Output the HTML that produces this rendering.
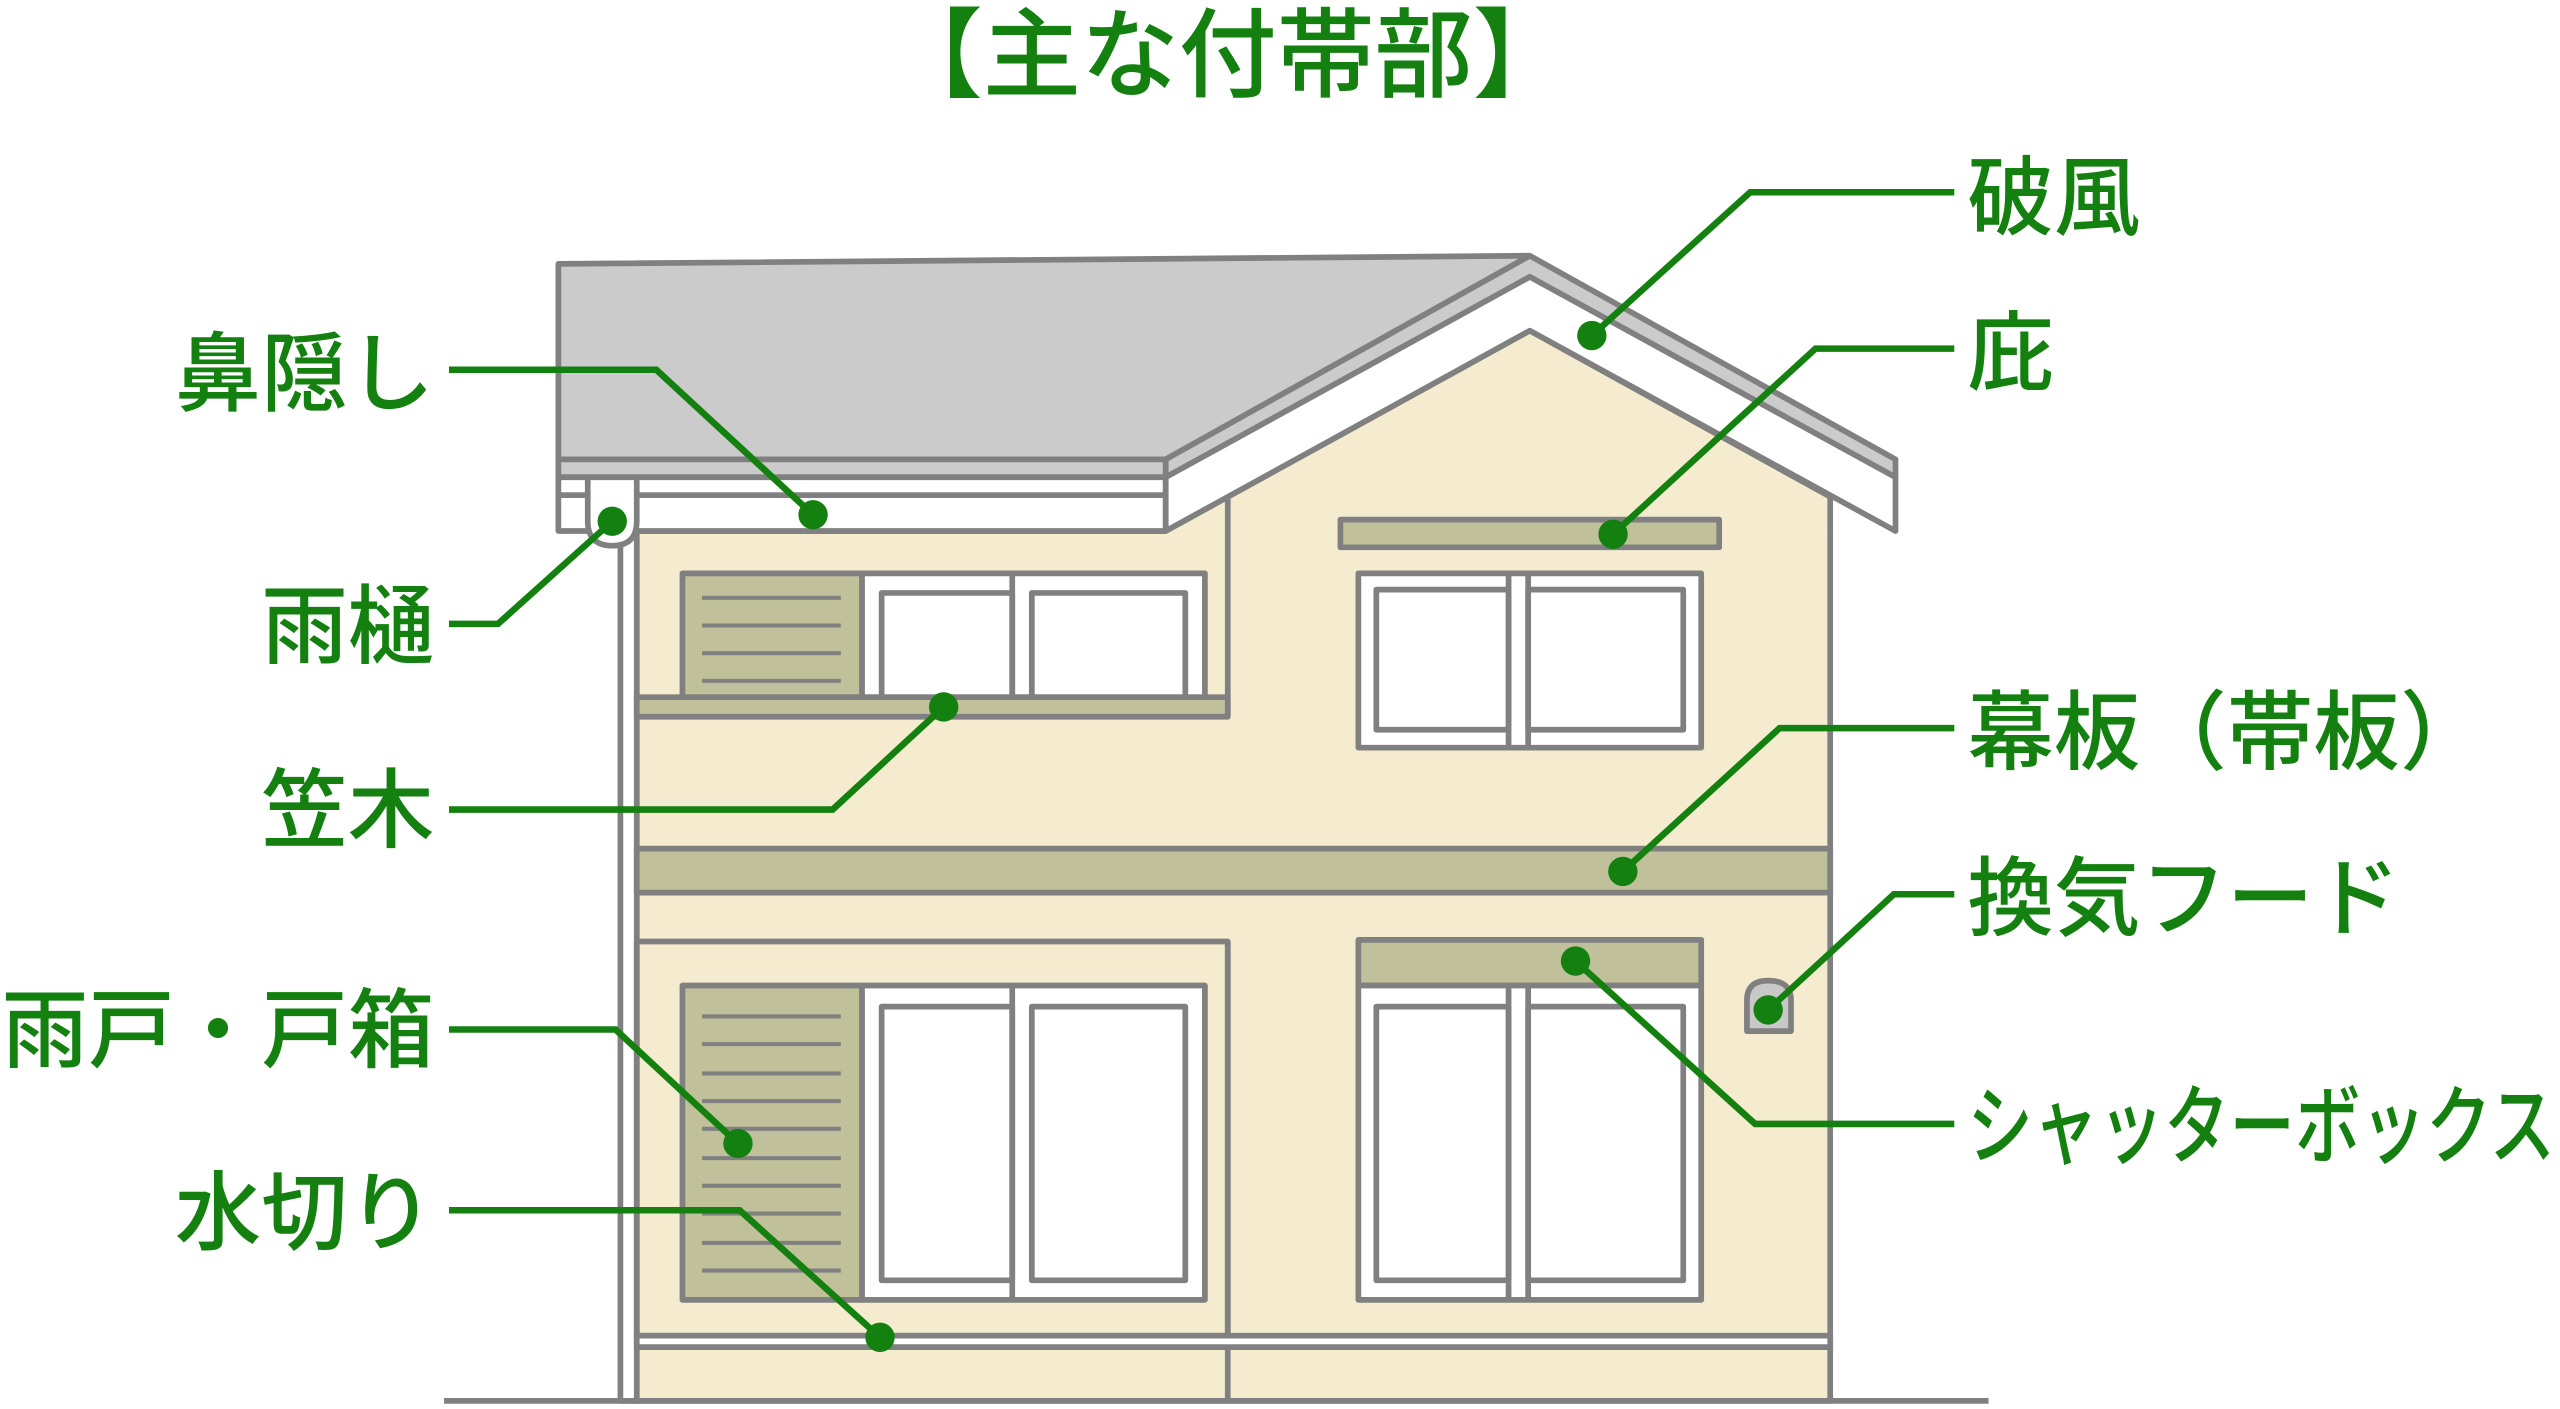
<!DOCTYPE html>
<html><head><meta charset="utf-8"><style>
html,body{margin:0;padding:0;background:#fff;}
svg{display:block;}
text{font-family:"Liberation Sans","Noto Sans CJK JP",sans-serif;fill:#13800f;font-size:53px;font-weight:500;}
</style></head><body>
<svg width="2560" height="1409" viewBox="0 0 1568 865" preserveAspectRatio="none">
<g stroke="#808080" stroke-width="3.5" stroke-linejoin="round">
<polygon points="390,326 714,326 937,203 1121,305 1121,860 390,860" fill="#f5ecd0"/>
<line x1="752" y1="305" x2="752" y2="440"/>
<line x1="752" y1="578" x2="752" y2="860"/>
<polygon points="342,162 937,157 714,282 342,282" fill="#cbcbcb"/>
<rect x="342" y="282" width="372" height="11" fill="#cbcbcb"/>
<rect x="342" y="293" width="372" height="11" fill="#fff"/>
<rect x="342" y="304" width="372" height="22" fill="#fff"/>
<polygon points="714,282 937,157 1161,282 1161,293 937,170 714,293" fill="#cbcbcb"/>
<polygon points="714,293 937,170 1161,293 1161,326 937,203 714,326" fill="#fff"/>
<rect x="380" y="326" width="10" height="534" fill="#fff"/>
<path d="M360,293 L390,293 L390,320 Q390,335 375,335 Q360,335 360,320 Z" fill="#fff"/>
<rect x="418" y="352" width="110" height="76" fill="#c0c09a"/>
<rect x="528" y="352" width="210" height="76" fill="#fff"/>
<rect x="540" y="364" width="80" height="64" fill="#fff"/>
<rect x="632" y="364" width="94" height="64" fill="#fff"/>
<line x1="620" y1="352" x2="620" y2="428"/>
<rect x="390" y="428" width="362" height="12" fill="#c0c09a"/>
<rect x="821" y="319" width="232" height="17" fill="#c0c09a"/>
<rect x="832" y="352" width="210" height="107" fill="#fff"/>
<rect x="843" y="362" width="81" height="86" fill="#fff"/>
<rect x="936" y="362" width="95" height="86" fill="#fff"/>
<line x1="924" y1="352" x2="924" y2="459"/><line x1="936" y1="352" x2="936" y2="459"/>
<rect x="390" y="521" width="731" height="27" fill="#c0c09a"/>
<rect x="390" y="578" width="362" height="242" fill="none"/>
<rect x="418" y="605" width="110" height="193" fill="#c0c09a"/>
<rect x="528" y="605" width="210" height="193" fill="#fff"/>
<rect x="540" y="618" width="80" height="168" fill="#fff"/>
<rect x="632" y="618" width="94" height="168" fill="#fff"/>
<line x1="620" y1="605" x2="620" y2="798"/>
<rect x="832" y="577" width="210" height="28" fill="#c0c09a"/>
<rect x="832" y="605" width="210" height="193" fill="#fff"/>
<rect x="843" y="618" width="81" height="168" fill="#fff"/>
<rect x="936" y="618" width="95" height="168" fill="#fff"/>
<line x1="924" y1="605" x2="924" y2="798"/><line x1="936" y1="605" x2="936" y2="798"/>
<path d="M1070,633 L1070,614 Q1070,602 1083,602 Q1097,602 1097,614 L1097,633 Z" fill="#c8c8c8"/>
<rect x="390" y="820" width="731" height="7" fill="#fff"/>
<line x1="272" y1="860" x2="1218" y2="860"/>
</g>
<g stroke="#808080" stroke-width="2.5">
<line x1="430" y1="367" x2="515" y2="367"/><line x1="430" y1="384" x2="515" y2="384"/><line x1="430" y1="401" x2="515" y2="401"/><line x1="430" y1="418" x2="515" y2="418"/>
<line x1="430" y1="624" x2="515" y2="624"/><line x1="430" y1="641" x2="515" y2="641"/><line x1="430" y1="659" x2="515" y2="659"/><line x1="430" y1="676" x2="515" y2="676"/><line x1="430" y1="693" x2="515" y2="693"/><line x1="430" y1="711" x2="515" y2="711"/><line x1="430" y1="728" x2="515" y2="728"/><line x1="430" y1="745" x2="515" y2="745"/><line x1="430" y1="763" x2="515" y2="763"/><line x1="430" y1="780" x2="515" y2="780"/>
</g>
<g stroke="#13800f" stroke-width="4" fill="none">
<polyline points="275,227 402,227 498,316"/>
<polyline points="275,383 305,383 375,320"/>
<polyline points="275,497 510,497 578,434"/>
<polyline points="275,632 377,632 452,702"/>
<polyline points="275,743 453,743 539,821"/>
<polyline points="1197,118 1072,118 975,206"/>
<polyline points="1197,214 1112,214 988,328"/>
<polyline points="1197,447 1090,447 994,535"/>
<polyline points="1197,549 1160,549 1083,620"/>
<polyline points="1197,690 1075,690 965,590"/>
</g>
<g fill="#13800f">
<circle cx="498" cy="316" r="9"/><circle cx="375" cy="320" r="9"/><circle cx="578" cy="434" r="9"/><circle cx="452" cy="702" r="9"/><circle cx="539" cy="821" r="9"/>
<circle cx="975" cy="206" r="9"/><circle cx="988" cy="328" r="9"/><circle cx="994" cy="535" r="9"/><circle cx="1083" cy="620" r="9"/><circle cx="965" cy="590" r="9"/>
</g>
<text x="752" y="55" text-anchor="middle" style="font-size:60px">【主な付帯部】</text>
<text x="266" y="248" text-anchor="end">鼻隠し</text>
<text x="266" y="403" text-anchor="end">雨樋</text>
<text x="266" y="516" text-anchor="end">笠木</text>
<text x="266" y="651" text-anchor="end">雨戸・戸箱</text>
<text x="266" y="763" text-anchor="end">水切り</text>
<text x="1205" y="140">破風</text>
<text x="1205" y="235">庇</text>
<text x="1205" y="468">幕板（帯板）</text>
<text x="1205" y="570" textLength="265" lengthAdjust="spacingAndGlyphs">換気フード</text>
<text x="1205" y="710" textLength="360" lengthAdjust="spacingAndGlyphs">シャッターボックス</text>
</svg>
</body></html>
